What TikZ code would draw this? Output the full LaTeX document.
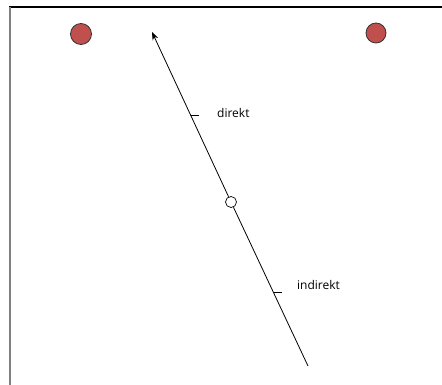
\documentclass[tikz,border=0pt]{standalone}
\usepackage{fontspec}
\setmainfont{Open Sans}
\usetikzlibrary{arrows.meta}
\begin{document}
\begin{tikzpicture}[x=1pt,y=-1pt,
  redball/.style={circle,draw=black!80,fill={rgb,255:red,192;green,80;blue,77},line width=0.8pt,minimum size=21pt,inner sep=0pt},
  hole/.style={circle,draw=black,fill=white,line width=0.7pt,minimum size=11pt,inner sep=0pt},
  lbl/.style={font=\fontsize{12}{14}\selectfont,anchor=west,inner sep=0pt},
  axis/.style={line width=0.8pt}]
\useasboundingbox (0,0) rectangle (442,385);
\draw[line width=1.4pt] (9,7) -- (442,7);
\draw[gray,line width=2pt] (10,7) -- (10,385);
\node[redball] (r1) at (81,34) {};
\node[redball,minimum size=20pt] (r2) at (376,33) {};
\coordinate (bot) at (308,366);
\coordinate (top) at (152,32);
\node[hole] (h) at (231,202) {};
\draw[axis] (bot) -- (h);
\draw[axis,-{Stealth[length=8pt,width=6pt]}] (h) -- (top);
\coordinate (t1) at (190.8,115);
\coordinate (t1e) at (199,115);
\coordinate (t2) at (273.4,292);
\coordinate (t2e) at (282,292);
\draw[axis] (t1) -- (t1e);
\draw[axis] (t2) -- (t2e);
\node[lbl] (d) at (217,113) {direkt};
\node[lbl] (i) at (297,285) {indirekt};
\end{tikzpicture}
\end{document}
